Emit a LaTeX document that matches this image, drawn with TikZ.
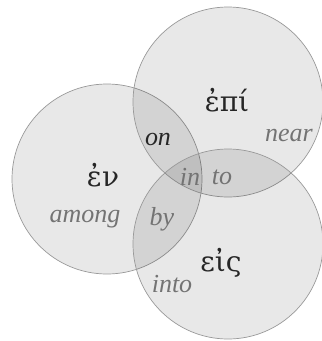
\documentclass[tikz,border=0pt]{standalone}
\usepackage{fontspec}
\setmainfont{Liberation Serif}
\newfontfamily\greekfont{DejaVu Serif}
\begin{document}
\begin{tikzpicture}[x=1pt,y=-1pt,
  ring/.style={draw=black!40,line width=0.7pt,fill=black,fill opacity=0.09},
  gr/.style={text=black!85,font=\greekfont\fontsize{28}{28}\selectfont,inner sep=0pt},
  en/.style={text=black!55,font=\itshape\fontsize{26}{26}\selectfont,inner sep=0pt}]
\useasboundingbox (0,0) rectangle (322,341);
\fill[white] (0,0) rectangle (322,341);
\node[ring,circle,minimum size=190pt,inner sep=0pt] (cen) at (107,179) {};
\node[ring,circle,minimum size=190pt,inner sep=0pt] (cepi) at (228,102) {};
\node[ring,circle,minimum size=190pt,inner sep=0pt] (ceis) at (228,244) {};
\node[gr] (ten) at (103,175) {ἐν};
\node[gr] (tepi) at (227,100) {ἐπί};
\node[gr] (teis) at (221,263) {εἰς};
\node[en,text=black!85] (ton) at (158,139) {on};
\node[en] (tnear) at (289,136) {near};
\node[en] (tin) at (190,177) {in};
\node[en] (tto) at (222,177) {to};
\node[en] (tamong) at (85,219) {among};
\node[en] (tby) at (162,219) {by};
\node[en] (tinto) at (172,284) {into};
\end{tikzpicture}
\end{document}
